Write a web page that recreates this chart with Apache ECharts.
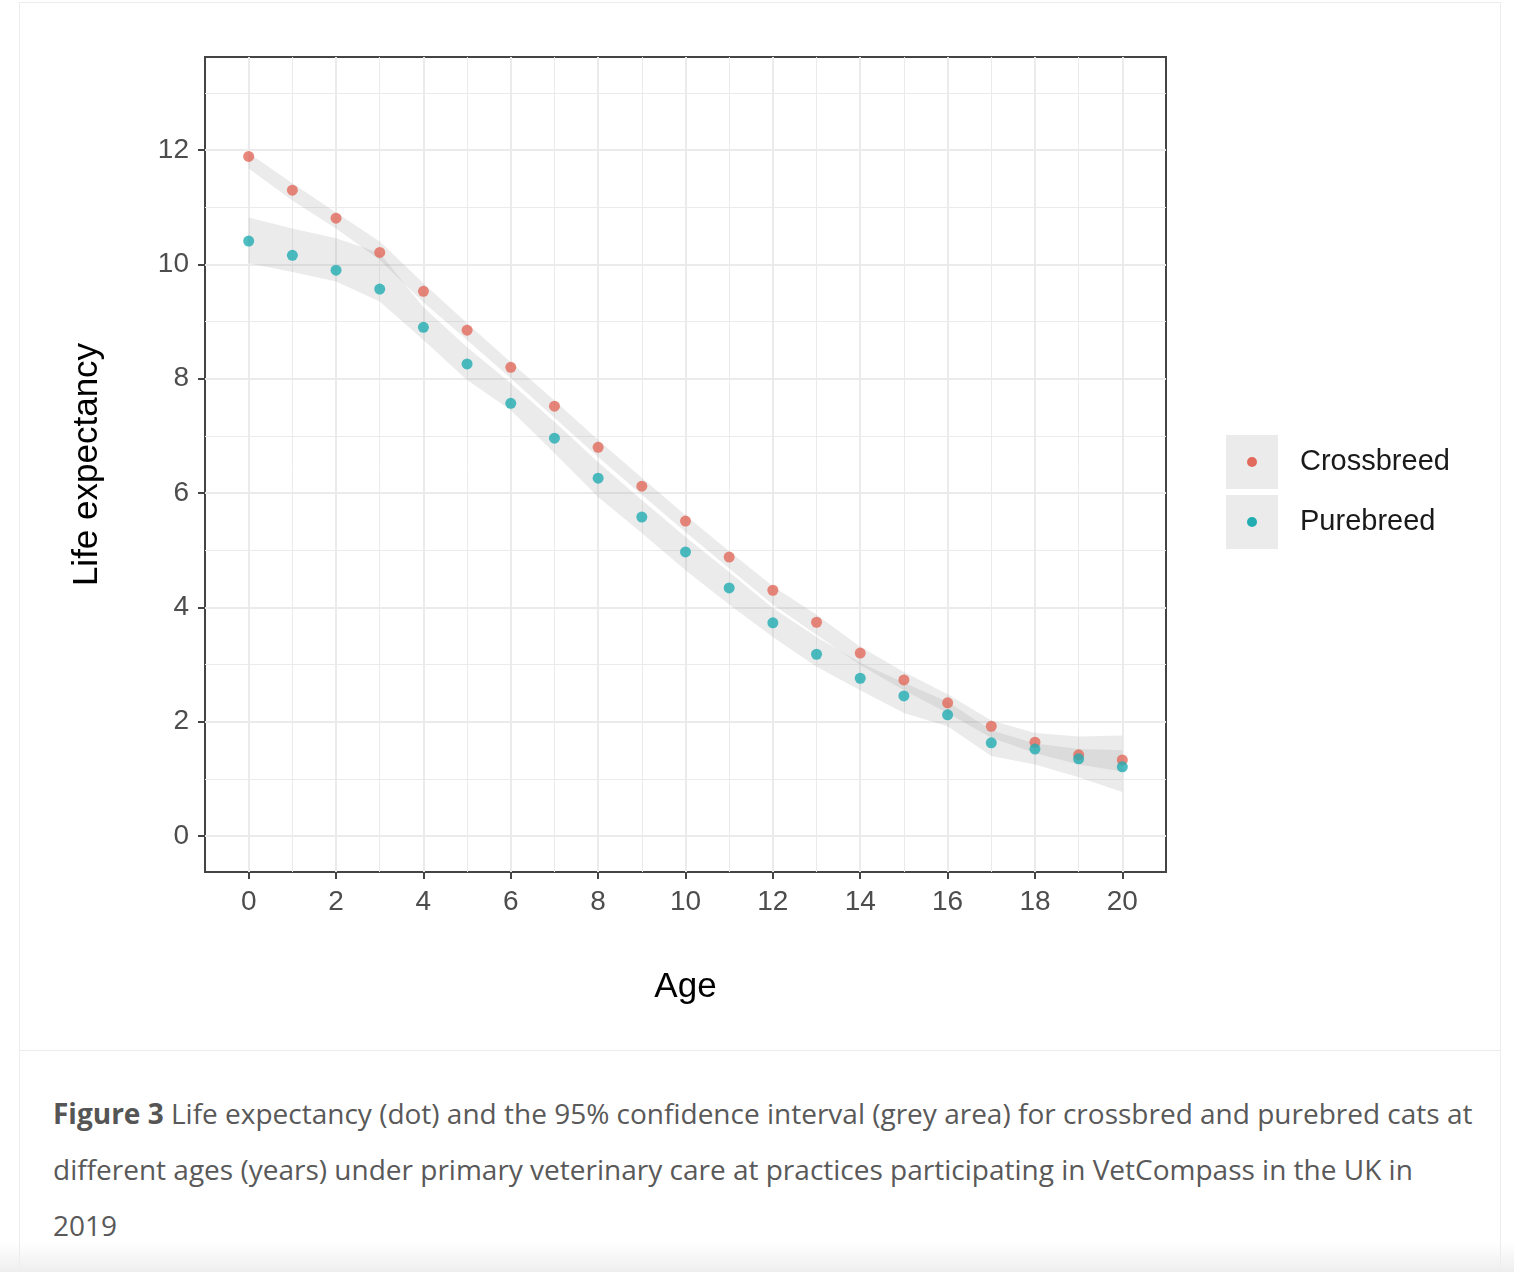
<!DOCTYPE html>
<html><head><meta charset="utf-8">
<script src="https://cdn.jsdelivr.net/npm/echarts@6/dist/echarts.min.js"></script>
<style>
html,body{margin:0;padding:0;background:#fff;width:1514px;height:1272px;overflow:hidden}
#card{position:absolute;left:19px;top:2px;width:1482px;height:1300px;border:1px solid #ececec;box-sizing:border-box}
#chart{position:absolute;left:0;top:0;width:1514px;height:1050px}
#sep{position:absolute;left:20px;top:1050px;width:1481px;height:1px;background:#ececec}
#cap{position:absolute;left:53px;top:1085px;font-family:"Open Sans";font-size:28px;line-height:56px;color:#595959;white-space:nowrap}
#cap b{color:#555;font-weight:700}
#shade{position:absolute;left:0;top:1242px;width:1514px;height:30px;background:linear-gradient(rgba(242,242,242,0),#eeeeee)}
</style></head>
<body>
<div id="card"></div>
<div id="chart"></div>
<div id="sep"></div>
<div id="cap"><b>Figure 3</b> Life expectancy (dot) and the 95% confidence interval (grey area) for crossbred and purebred cats at<br>different ages (years) under primary veterinary care at practices participating in VetCompass in the UK in<br>2019</div>
<div id="shade"></div>
<script>
const ages = [0,1,2,3,4,5,6,7,8,9,10,11,12,13,14,15,16,17,18,19,20];
const crossbreed = [11.89,11.30,10.81,10.21,9.53,8.85,8.20,7.52,6.80,6.12,5.51,4.88,4.30,3.74,3.20,2.73,2.33,1.92,1.64,1.42,1.33];
const purebreed  = [10.41,10.16,9.90,9.57,8.90,8.26,7.57,6.96,6.26,5.58,4.97,4.34,3.73,3.18,2.76,2.45,2.12,1.63,1.52,1.35,1.21];
const crossLow  = [11.68,11.12,10.63,10.08,9.34,8.68,8.01,7.32,6.63,5.97,5.32,4.68,4.05,3.52,2.99,2.55,2.15,1.72,1.45,1.25,1.13];
const crossHigh = [11.95,11.42,10.91,10.40,9.67,8.97,8.29,7.62,6.93,6.27,5.61,4.98,4.37,3.87,3.31,2.87,2.48,2.02,1.80,1.74,1.76];
const pureLow   = [10.02,9.87,9.70,9.35,8.68,7.98,7.45,6.70,5.93,5.30,4.65,4.05,3.48,2.96,2.55,2.15,1.92,1.40,1.25,1.03,0.77];
const pureHigh  = [10.82,10.63,10.46,10.20,9.25,8.55,7.92,7.25,6.54,5.88,5.23,4.62,3.99,3.48,3.03,2.68,2.35,1.85,1.62,1.52,1.50];
const xTicks = [0,2,4,6,8,10,12,14,16,18,20];
const xMinor = [1,3,5,7,9,11,13,15,17,19];
const yTicks = [0,2,4,6,8,10,12];
const yMinor = [1,3,5,7,9,11,13];
const seriesNames = ['Crossbreed','Purebreed'];
const colors = ['#e26a5c','#22adb3'];

const chart = echarts.init(document.getElementById('chart'));
const font = 'Liberation Sans, Arial, sans-serif';
const band = 'rgba(153,153,153,0.2)';
function ribbon(lo, hi){
  return {
    type:'custom', silent:true, z:1,
    data:ages.map((a,i)=>[a, lo[i], hi[i]]),
    encode:{x:0, y:[1,2]},
    renderItem:function(params, api){
      if (params.dataIndex !== 0) return null;
      const pts = [];
      for (let i = 0; i < ages.length; i++) pts.push(api.coord([ages[i], hi[i]]));
      for (let i = ages.length - 1; i >= 0; i--) pts.push(api.coord([ages[i], lo[i]]));
      return {type:'polygon', shape:{points:pts}, style:{fill:band}};
    }
  };
}
const axisTitle = {fontSize:35, color:'#000', fontFamily:font};
const tickLabel = {fontSize:28, color:'#4d4d4d', fontFamily:font};
chart.setOption({
  animation:false,
  grid:{left:205, top:57, width:961, height:815, show:true, borderColor:'#444', borderWidth:2, backgroundColor:'#fff', containLabel:false},
  xAxis:[
    {type:'value', min:-1, max:21, position:'bottom',
     axisLine:{show:false, onZero:false},
     axisTick:{show:true, customValues:xTicks, length:7, lineStyle:{color:'#444', width:2}},
     axisLabel:{customValues:xTicks, margin:16, ...tickLabel},
     splitLine:{show:true, lineStyle:{color:'#ebebeb', width:2}},
     name:'Age', nameLocation:'middle', nameGap:98, nameTextStyle:axisTitle},
    {type:'value', min:-1, max:21, position:'bottom',
     axisLine:{show:false, onZero:false}, axisTick:{show:false, customValues:xMinor}, axisLabel:{show:false, customValues:xMinor},
     splitLine:{show:true, lineStyle:{color:'#ebebeb', width:1}}}
  ],
  yAxis:[
    {type:'value', min:-0.63, max:13.63, position:'left',
     axisLine:{show:false, onZero:false},
     axisTick:{show:true, customValues:yTicks, length:7, lineStyle:{color:'#444', width:2}},
     axisLabel:{customValues:yTicks, margin:16, ...tickLabel},
     splitLine:{show:true, lineStyle:{color:'#ebebeb', width:2}},
     name:'Life expectancy', nameLocation:'middle', nameGap:100, nameRotate:90, nameTextStyle:axisTitle},
    {type:'value', min:-0.63, max:13.63, position:'left',
     axisLine:{show:false, onZero:false}, axisTick:{show:false, customValues:yMinor}, axisLabel:{show:false, customValues:yMinor},
     splitLine:{show:true, lineStyle:{color:'#ebebeb', width:1}}}
  ],
  series:[
    ribbon(crossLow, crossHigh),
    ribbon(pureLow, pureHigh),
    {name:seriesNames[0], type:'scatter', data:ages.map((a,i)=>[a,crossbreed[i]]), symbolSize:11, itemStyle:{color:colors[0]}, z:5},
    {name:seriesNames[1], type:'scatter', data:ages.map((a,i)=>[a,purebreed[i]]), symbolSize:11, itemStyle:{color:colors[1]}, z:6}
  ],
  graphic:[
    {type:'rect', shape:{x:1226, y:435, width:52, height:54}, style:{fill:'#ebebeb'}},
    {type:'rect', shape:{x:1226, y:495, width:52, height:54}, style:{fill:'#ebebeb'}},
    {type:'circle', shape:{cx:1252, cy:462, r:5}, style:{fill:colors[0]}},
    {type:'circle', shape:{cx:1252, cy:522, r:5}, style:{fill:colors[1]}},
    {type:'text', x:1300, y:462, style:{text:seriesNames[0], font:'29px '+font, fill:'#1a1a1a', verticalAlign:'middle'}},
    {type:'text', x:1300, y:522, style:{text:seriesNames[1], font:'29px '+font, fill:'#1a1a1a', verticalAlign:'middle'}}
  ]
});
</script>
</body></html>
